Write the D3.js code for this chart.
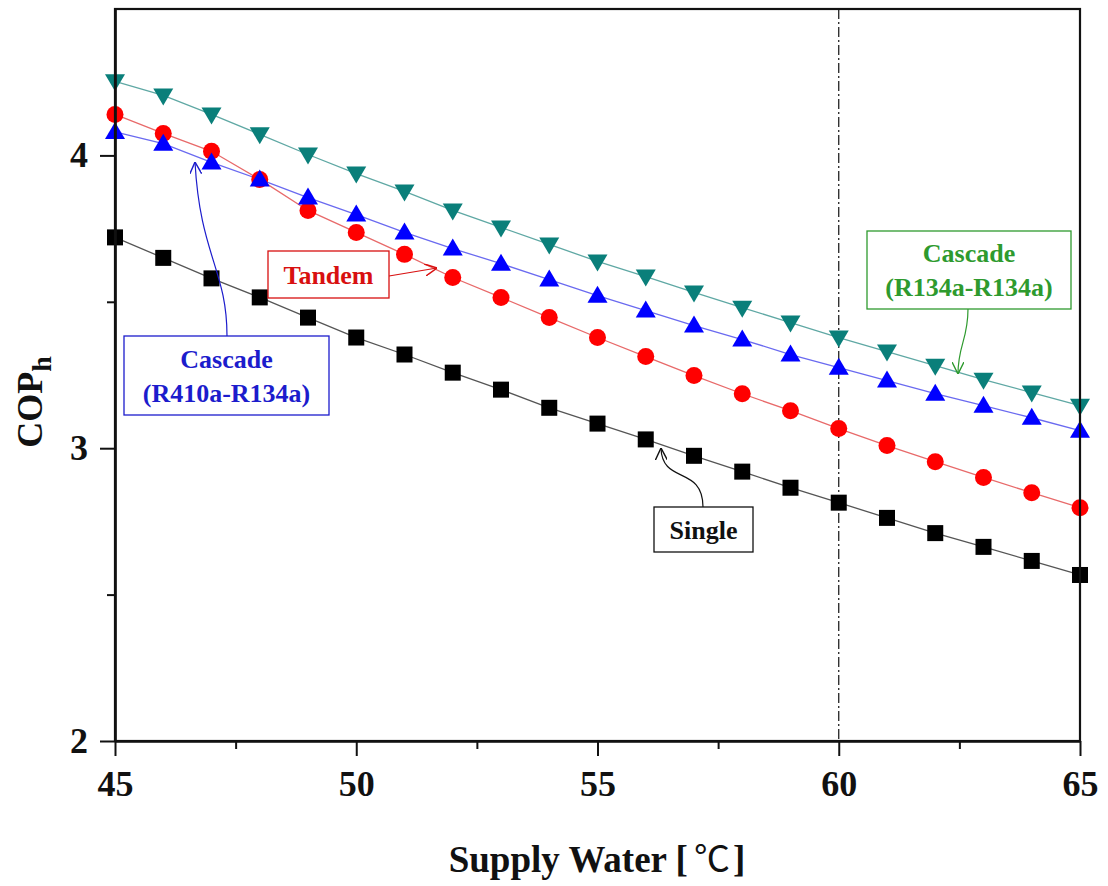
<!DOCTYPE html>
<html><head><meta charset="utf-8">
<script src="https://cdn.jsdelivr.net/npm/d3@7"></script>
<style>body{margin:0;background:#fff}svg{display:block}</style>
</head><body>
<svg id="c" width="1108" height="886"></svg>
<script>
const temps = [45,46,47,48,49,50,51,52,53,54,55,56,57,58,59,60,61,62,63,64,65];
const single = [3.72,3.65,3.58,3.515,3.446,3.378,3.32,3.258,3.20,3.138,3.084,3.03,2.974,2.92,2.865,2.814,2.762,2.71,2.663,2.615,2.567];
const tandem = [4.14,4.075,4.014,3.918,3.812,3.737,3.662,3.583,3.515,3.446,3.378,3.313,3.248,3.186,3.128,3.067,3.009,2.954,2.90,2.848,2.797];
const cascR410 = [4.08,4.04,3.976,3.918,3.856,3.798,3.737,3.682,3.63,3.576,3.521,3.47,3.419,3.371,3.32,3.275,3.231,3.186,3.145,3.104,3.06];
const cascR134 = [4.253,4.205,4.14,4.072,4.003,3.938,3.877,3.812,3.754,3.696,3.638,3.586,3.532,3.48,3.429,3.378,3.33,3.282,3.234,3.19,3.145];
const xMajor = [45,50,55,60,65];
const xMinor = [47.5,52.5,57.5,62.5];
const yMajor = [2,3,4];
const yMinor = [2.5,3.5];
const refTemp = 60;

const FONT = '"Liberation Serif","Times New Roman",serif';
const svg = d3.select('#c');
const x = d3.scaleLinear().domain([45,65]).range([115,1080]);
const y = d3.scaleLinear().domain([2,4.5]).range([741,9]);

// arrow markers
const defs = svg.append('defs');
function mk(id,color){
  defs.append('marker').attr('id',id).attr('viewBox','0 0 10 10').attr('refX',10).attr('refY',5)
    .attr('markerWidth',12).attr('markerHeight',12).attr('markerUnits','userSpaceOnUse').attr('orient','auto')
    .append('path').attr('d','M0,0 L10,5 L0,10').attr('fill','none').attr('stroke',color).attr('stroke-width',1.2);
}
mk('aBlue','#1c1ccc');mk('aRed','#d81010');mk('aBlack','#111');mk('aGreen','#2e9a2e');

// reference line
svg.append('line').attr('x1',x(refTemp)).attr('x2',x(refTemp)).attr('y1',y(4.5)).attr('y2',y(2))
  .attr('stroke','#111').attr('stroke-width',1.2).attr('stroke-dasharray','10,3,2,3');

const series = [
  {data:single, line:'#555', fill:'#000', shape:'square'},
  {data:tandem, line:'#e86a6a', fill:'#ff0000', shape:'circle'},
  {data:cascR410, line:'#6a6af0', fill:'#0000ff', shape:'up'},
  {data:cascR134, line:'#5fa8a4', fill:'#0a7f7a', shape:'down'}
];
const lineGen = d3.line().x((d,i)=>x(temps[i])).y(d=>y(d));
series.forEach(s=>{
  svg.append('path').attr('d',lineGen(s.data)).attr('fill','none').attr('stroke',s.line).attr('stroke-width',1.3);
});
series.forEach(s=>{
  const g = svg.append('g');
  s.data.forEach((v,i)=>{
    const cx=x(temps[i]), cy=y(v);
    if(s.shape==='square') g.append('rect').attr('x',cx-8).attr('y',cy-8).attr('width',16).attr('height',16).attr('fill',s.fill);
    else if(s.shape==='circle') g.append('circle').attr('cx',cx).attr('cy',cy).attr('r',8.5).attr('fill',s.fill);
    else if(s.shape==='up') g.append('path').attr('d',`M${cx},${cy-10} L${cx+10},${cy+7} L${cx-10},${cy+7}Z`).attr('fill',s.fill);
    else g.append('path').attr('d',`M${cx},${cy+10} L${cx+10},${cy-7} L${cx-10},${cy-7}Z`).attr('fill',s.fill);
  });
});

// frame
svg.append('rect').attr('x',x(45)).attr('y',y(4.5)).attr('width',x(65)-x(45)).attr('height',y(2)-y(4.5))
  .attr('fill','none').attr('stroke','#111').attr('stroke-width',2.2);

// axes
svg.append('g').attr('transform',`translate(0,${y(2)})`)
  .call(d3.axisBottom(x).tickValues(xMajor).tickSize(15).tickSizeOuter(0).tickPadding(14).tickFormat(d3.format('d')));
svg.append('g').attr('transform',`translate(0,${y(2)})`)
  .call(d3.axisBottom(x).tickValues(xMinor).tickSize(8).tickSizeOuter(0).tickFormat(''));
svg.append('g').attr('transform',`translate(${x(45)},0)`)
  .call(d3.axisLeft(y).tickValues(yMajor).tickSize(15).tickSizeOuter(0).tickPadding(12).tickFormat(d3.format('d')));
svg.append('g').attr('transform',`translate(${x(45)},0)`)
  .call(d3.axisLeft(y).tickValues(yMinor).tickSize(8).tickSizeOuter(0).tickFormat(''));
svg.selectAll('.domain').attr('stroke','#111').attr('stroke-width',2.2);
svg.selectAll('.tick line').attr('stroke','#111').attr('stroke-width',2);
svg.selectAll('.tick text').attr('font-family',FONT).attr('font-size',36).attr('font-weight','bold').attr('fill','#111');

// axis titles
const xl = svg.append('text').attr('x',597).attr('y',872).attr('text-anchor','middle')
  .attr('font-family',FONT).attr('font-size',37).attr('font-weight','bold').attr('fill','#111');
xl.append('tspan').text('Supply Water [');
xl.append('tspan').attr('font-family','"Noto Sans CJK KR","Noto Sans CJK SC",serif').attr('font-weight','normal').attr('font-size',36).attr('dx',6).text('℃');
xl.append('tspan').attr('dx',3).text(']');
const yl = svg.append('text').attr('transform','translate(42,402) rotate(-90)').attr('text-anchor','middle')
  .attr('font-family',FONT).attr('font-size',36).attr('font-weight','bold').attr('fill','#111');
yl.append('tspan').text('COP');
yl.append('tspan').attr('dy',9).attr('font-size',28).text('h');

// annotations
function box(x0,y0,w,h,color,lines,lh){
  svg.append('rect').attr('x',x0).attr('y',y0).attr('width',w).attr('height',h).attr('fill','#fff').attr('stroke',color).attr('stroke-width',1.3);
  const t = svg.append('text').attr('font-family',FONT).attr('font-size',26).attr('font-weight','bold').attr('fill',color).attr('text-anchor','middle');
  const n=lines.length;
  lines.forEach((l,i)=>{
    t.append('tspan').attr('x',x0+w/2).attr('y',y0+h/2+ (i-(n-1)/2)*lh + 9).text(l);
  });
}
function arrow(d,color,m){
  svg.append('path').attr('d',d).attr('fill','none').attr('stroke',color).attr('stroke-width',1.2).attr('marker-end',`url(#${m})`);
}
arrow('M227,336 C227,270 200,255 195,162','#1c1ccc','aBlue');
arrow('M389,276 L437,268','#d81010','aRed');
arrow('M703,507 C703,465 662,485 661,448','#111','aBlack');
arrow('M968,309 C968,340 958,345 958,374','#2e9a2e','aGreen');
box(124,336,205,79,'#1c1ccc',['Cascade','(R410a-R134a)'],34);
box(268,251,121,47,'#d81010',['Tandem'],34);
box(654,507,99,45,'#111',['Single'],34);
box(867,231,204,78,'#2e9a2e',['Cascade','(R134a-R134a)'],34);
</script>
</body></html>
